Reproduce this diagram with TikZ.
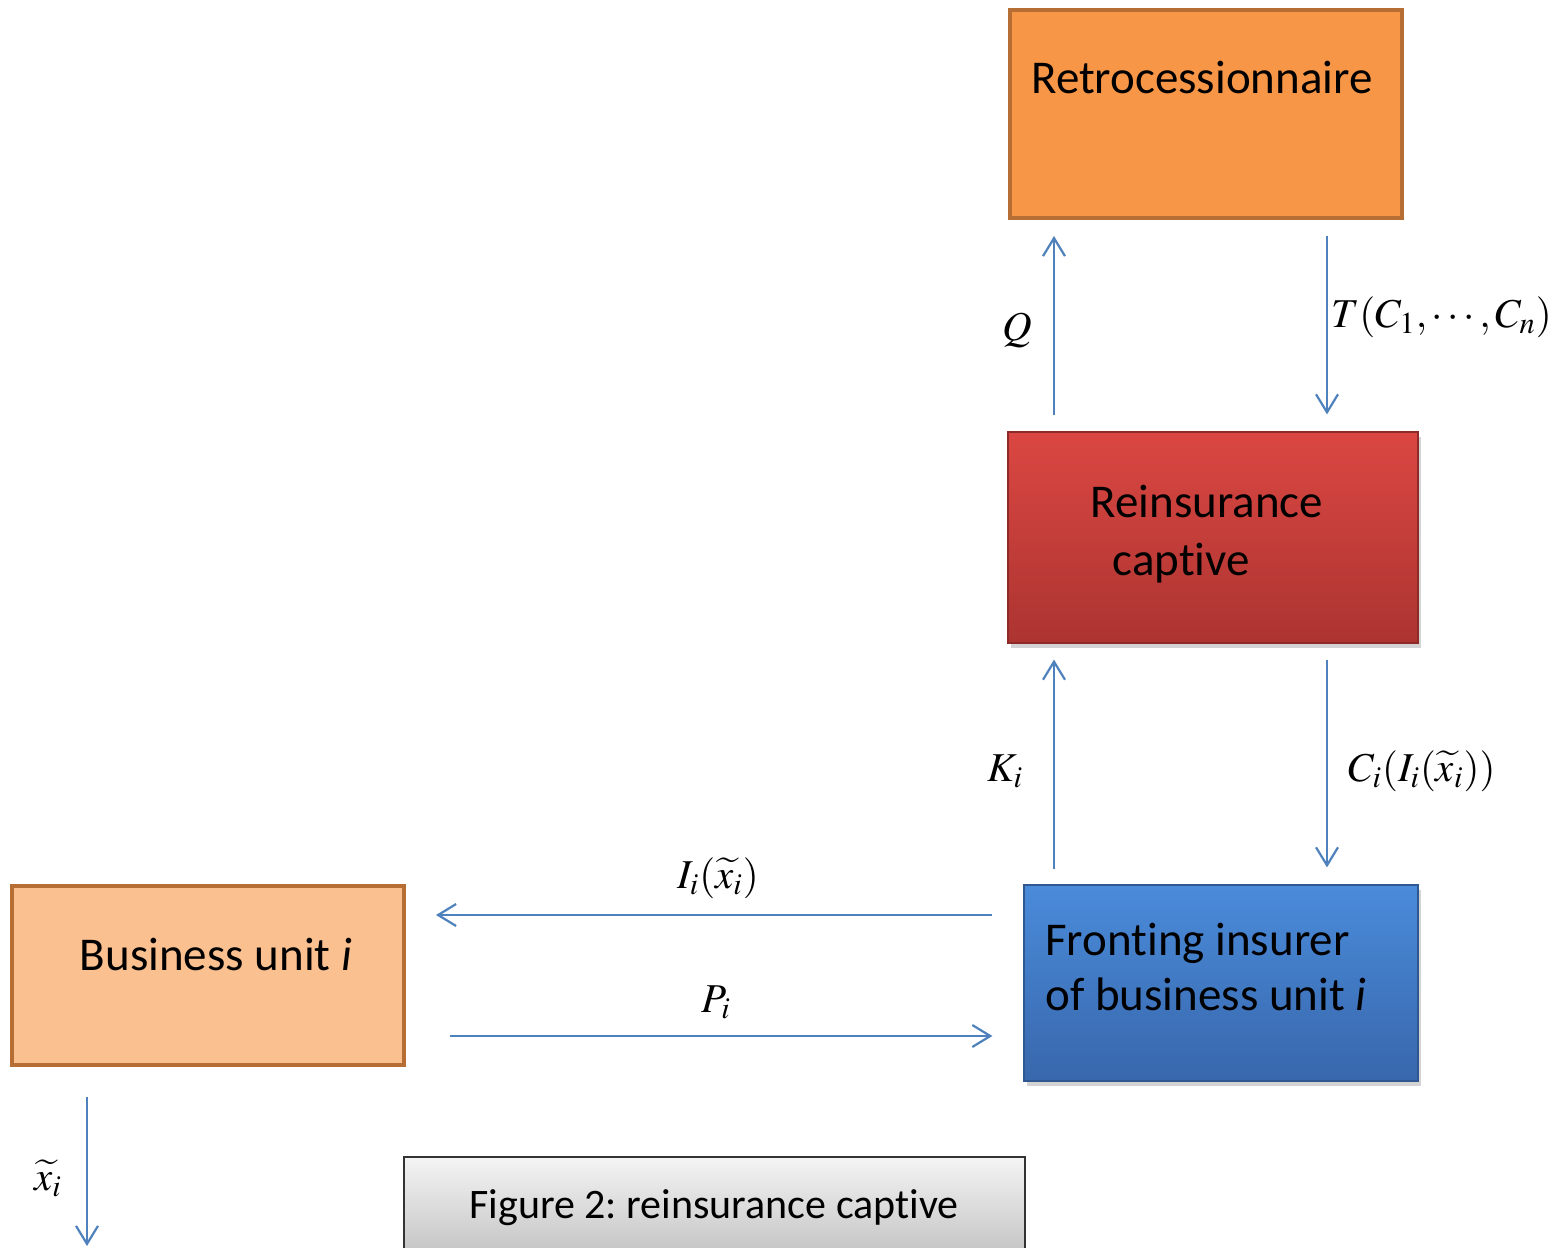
\documentclass[tikz,border=0pt]{standalone}
\usepackage{mathptmx}
\usepackage[no-math]{fontspec}
\setmainfont{Carlito}[Ligatures=NoCommon]
\usetikzlibrary{arrows.meta,shadows,positioning}
\frenchspacing

\definecolor{retrofill}{HTML}{F79646}
\definecolor{unitfill}{HTML}{FAC090}
\definecolor{brownline}{HTML}{B76E34}
\definecolor{redtop}{HTML}{DB4742}
\definecolor{redbottom}{HTML}{AC3431}
\definecolor{redline}{HTML}{8E2B29}
\definecolor{bluetop}{HTML}{4A8BDA}
\definecolor{bluebottom}{HTML}{3867AC}
\definecolor{blueline}{HTML}{2F5892}
\definecolor{capttop}{HTML}{F4F4F4}
\definecolor{captbottom}{HTML}{C6C6C6}
\definecolor{flowblue}{HTML}{4F81BD}

\newcommand{\boxfont}{\fontsize{23.5}{28}\selectfont}
\newcommand{\labelfont}{\fontsize{20.5}{25}\selectfont}

\tikzset{
    box/.style={rectangle, inner sep=0pt},
    plainbox/.style={box, line width=2pt, draw=brownline},
    shadedbox/.style={box, line width=0.6pt,
        drop shadow={shadow xshift=1.5pt, shadow yshift=-2.5pt, opacity=0.35}},
    boxtext/.style={font=\boxfont, inner sep=0pt},
    flow/.style={draw=flowblue, line width=1.1pt, -{Straight Barb[length=9pt,width=11pt]}},
    flowlabel/.style={font=\labelfont, inner sep=0pt}
}

\begin{document}
\begin{tikzpicture}[x=0.5pt, y=-0.5pt]
    \useasboundingbox (0,0) rectangle (1559,1248);

    % the four parties
    \node[plainbox, fill=retrofill, minimum width=196pt, minimum height=104pt] (retro) at (1206,114) {};
    \node[shadedbox, draw=redline, top color=redtop, bottom color=redbottom,
        minimum width=205pt, minimum height=105.5pt] (captive) at (1213,537.5) {};
    \node[shadedbox, draw=blueline, top color=bluetop, bottom color=bluebottom,
        minimum width=197pt, minimum height=98pt] (fronting) at (1221,983) {};
    \node[plainbox, fill=unitfill, minimum width=196pt, minimum height=89.5pt] (unit) at (208,975.5) {};

    \node[boxtext, anchor=base] (retrotext) at (1202,93) {Retrocessionnaire};
    \node[boxtext, anchor=base, align=center, font=\fontsize{23.5}{29}\selectfont] (captivetext) at (1207,575)
        {Reinsurance\\captive\hspace*{1.1em}};
    \node[boxtext, anchor=base west, align=left, font=\fontsize{23.5}{27.5}\selectfont] (frontingtext) at (1045,1010)
        {Fronting insurer\\of business unit \textit{i}};
    \node[boxtext, anchor=base] (unittext) at (216,970) {Business unit \textit{i}};

    % caption
    \node[box, draw=black!80, line width=0.75pt, top color=capttop, bottom color=captbottom,
        minimum width=310.5pt, minimum height=47pt] (caption) at (714.5,1204) {};
    \node[boxtext, anchor=base, font=\fontsize{21}{25}\selectfont] (captiontext) at (714,1218)
        {Figure 2: reinsurance captive};

    % flows
    \coordinate (qfoot) at ([xshift=-79.5pt]captive.north);
    \draw[flow, shorten <=8pt, shorten >=8pt] (qfoot) -- (qfoot |- retro.south);
    \coordinate (ttop) at ([xshift=60.5pt]retro.south);
    \draw[flow, shorten <=8pt, shorten >=8.5pt] (ttop) -- (ttop |- captive.north);
    \coordinate (kfoot) at ([xshift=-83.5pt]fronting.north);
    \draw[flow, shorten <=7.5pt, shorten >=8pt] (kfoot) -- (kfoot |- captive.south);
    \coordinate (ctop) at ([xshift=57pt]captive.south);
    \draw[flow, shorten <=8pt, shorten >=8.5pt] (ctop) -- (ctop |- fronting.north);
    \coordinate (iright) at ([yshift=34pt]fronting.west);
    \draw[flow, shorten <=15.5pt, shorten >=15pt] (iright) -- (iright -| unit.east);
    \coordinate (pleft) at ([yshift=-30.25pt]unit.east);
    \draw[flow, shorten <=22pt, shorten >=15.5pt] (pleft) -- (pleft -| fronting.west);
    \coordinate (xtop) at ([xshift=-60.5pt]unit.south);
    \coordinate (xend) at (87,1246);
    \draw[flow, shorten <=15pt] (xtop) -- (xtop |- xend);

    % flow labels
    \node[flowlabel, anchor=base] (qlabel) at (1017,340) {$Q$};
    \node[flowlabel, anchor=base west] (tlabel) at (1331,327) {$T(C_1,\cdots,C_n)$};
    \node[flowlabel, anchor=base west] (klabel) at (987,781) {$K_i$};
    \node[flowlabel, anchor=base west] (clabel) at (1348,781) {$C_i(I_i(\widetilde{x}_i))$};
    \node[flowlabel, anchor=base] (ilabel) at (718,888) {$I_i(\widetilde{x}_i)$};
    \node[flowlabel, anchor=base] (plabel) at (716,1012) {$P_i$};
    \node[flowlabel, anchor=base] (xlabel) at (48,1190) {$\widetilde{x}_i$};
\end{tikzpicture}
\end{document}
